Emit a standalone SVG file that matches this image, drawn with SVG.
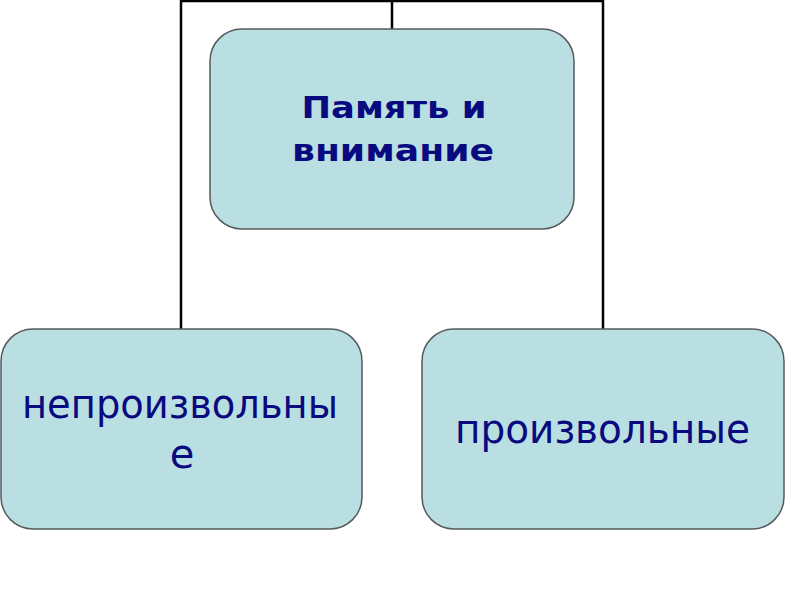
<svg xmlns="http://www.w3.org/2000/svg" width="800" height="600" viewBox="0 0 800 600">
<style>
.box{fill:#b9dfe2;stroke:#555a5c;stroke-width:1.5}
.conn{fill:none;stroke:#000;stroke-width:2.5}
.t{font-family:"DejaVu Sans","Verdana",sans-serif;fill:#0a0a80;text-anchor:middle}
.tb{font-weight:bold;font-size:31px}
.tr{font-size:40px}
</style>
<rect width="800" height="600" fill="#fff"/>
<g id="connectors">
<path class="conn" d="M181,329 V1 H603 V329"/>
<path class="conn" d="M392,1 V29"/>
</g>
<g id="node-top">
<rect class="box" x="210" y="29" width="364" height="200" rx="32" ry="32"/>
<text class="t tb" x="394" y="118" textLength="185" lengthAdjust="spacingAndGlyphs">Память и</text>
<text class="t tb" x="393" y="161" textLength="202" lengthAdjust="spacingAndGlyphs">внимание</text>
</g>
<g id="node-left">
<rect class="box" x="1" y="329" width="361" height="200" rx="32" ry="32"/>
<text class="t tr" x="180" y="418" textLength="316" lengthAdjust="spacingAndGlyphs">непроизвольны</text>
<text class="t tr" x="182" y="468">е</text>
</g>
<g id="node-right">
<rect class="box" x="422" y="329" width="362" height="200" rx="32" ry="32"/>
<text class="t tr" x="602.5" y="443" textLength="295" lengthAdjust="spacingAndGlyphs">произвольные</text>
</g>
</svg>
